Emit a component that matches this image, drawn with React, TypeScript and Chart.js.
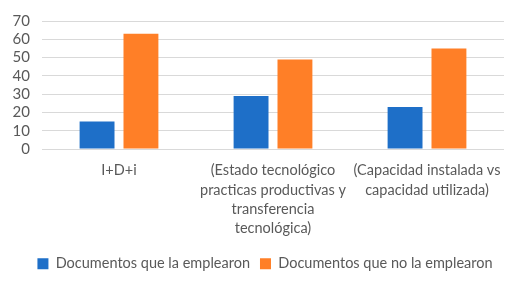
import React, { useEffect, useRef } from "react";
import { Chart, registerables } from "chart.js";

Chart.register(...registerables);

const categories: string[][] = [
  ["I+D+i"],
  ["(Estado tecnológico", "practicas productivas y", "transferencia", "tecnológica)"],
  ["(Capacidad instalada vs", "capacidad utilizada)"],
];
const seriesNames = ["Documentos que la emplearon", "Documentos que no la emplearon"];
const usedValues = [15, 29, 23];
const notUsedValues = [63, 49, 55];
const yMin = 0;
const yMax = 70;
const yStep = 10;

const FONT = "Lato";
const GRAY = "#595959";

const legendShift = {
  id: "legendShift",
  afterLayout(chart: any) {
    const l = chart.legend;
    if (l) {
      l.left += 13;
      l.right += 13;
    }
  },
};

export default function App() {
  const ref = useRef<HTMLCanvasElement>(null);
  useEffect(() => {
    if (!ref.current) return;
    const chart = new Chart(ref.current, {
      type: "bar",
      data: {
        labels: categories,
        datasets: [
          {
            label: seriesNames[0],
            data: usedValues,
            backgroundColor: "#1E6FC8",
            barPercentage: 0.795,
            categoryPercentage: 0.57,
          },
          {
            label: seriesNames[1],
            data: notUsedValues,
            backgroundColor: "#FF7F27",
            barPercentage: 0.795,
            categoryPercentage: 0.57,
          },
        ],
      },
      plugins: [legendShift],
      options: {
        animation: false,
        responsive: false,
        maintainAspectRatio: false,
        layout: { padding: { top: 17, right: 20, left: 0, bottom: 5 } },
        plugins: {
          tooltip: { enabled: false },
          legend: {
            position: "bottom",
            labels: {
              color: GRAY,
              font: { family: FONT, size: 14.5 },
              boxWidth: 11,
              boxHeight: 11,
              padding: 10,
            },
          },
        },
        scales: {
          x: {
            grid: { display: false },
            border: { display: false },
            ticks: {
              color: GRAY,
              font: { family: FONT, size: 14.5, lineHeight: 1.33 },
              autoSkip: false,
              maxRotation: 0,
              minRotation: 0,
              padding: 4,
            },
            afterFit: (s: any) => {
              s.height = 97.5;
            },
          },
          y: {
            min: yMin,
            max: yMax,
            border: { display: false },
            grid: { color: "#d9d9d9", lineWidth: 1, drawTicks: false },
            ticks: {
              stepSize: yStep,
              autoSkip: false,
              color: GRAY,
              font: { family: FONT, size: 15 },
              padding: 12,
            },
            afterFit: (s: any) => {
              s.width = 42;
            },
          },
        },
      },
    });
    return () => chart.destroy();
  }, []);
  return (
    <div style={{ position: "fixed", left: 0, top: 0, width: 524, height: 286, background: "#fff" }}>
      <canvas ref={ref} width={524} height={286} style={{ width: 524, height: 286 }} />
    </div>
  );
}
